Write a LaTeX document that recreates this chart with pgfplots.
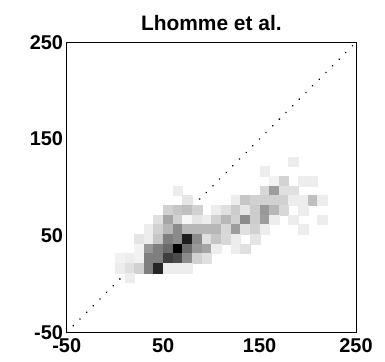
\documentclass[border=0pt]{standalone}
\usepackage{fontspec}
\setmainfont{Liberation Sans}
\usepackage{pgfplots}
\usepackage{pgfplotstable}
\pgfplotsset{compat=1.18}
\pgfplotstableread{
x y d
185 126.5 0.07
155 116.5 0.07
165 106.5 0.05
175 106.5 0.17
195 106.5 0.07
205 106.5 0.07
65 96.5 0.07
155 96.5 0.15
165 96.5 0.38
175 96.5 0.12
185 96.5 0.12
75 86.5 0.10
125 86.5 0.07
135 86.5 0.22
145 86.5 0.18
155 86.5 0.18
165 86.5 0.18
175 86.5 0.18
185 86.5 0.07
195 86.5 0.07
205 86.5 0.25
215 86.5 0.07
55 76.5 0.18
65 76.5 0.22
75 76.5 0.25
85 76.5 0.18
105 76.5 0.07
115 76.5 0.12
125 76.5 0.20
135 76.5 0.10
145 76.5 0.20
155 76.5 0.40
165 76.5 0.28
175 76.5 0.15
195 76.5 0.07
45 66.5 0.12
55 66.5 0.35
65 66.5 0.18
75 66.5 0.03
85 66.5 0.10
95 66.5 0.07
105 66.5 0.18
115 66.5 0.28
125 66.5 0.18
135 66.5 0.45
145 66.5 0.20
155 66.5 0.38
165 66.5 0.07
185 66.5 0.07
215 66.5 0.07
35 56.5 0.07
45 56.5 0.18
55 56.5 0.28
65 56.5 0.45
75 56.5 0.28
85 56.5 0.28
95 56.5 0.28
105 56.5 0.28
115 56.5 0.15
125 56.5 0.38
135 56.5 0.12
145 56.5 0.18
155 56.5 0.07
195 56.5 0.07
25 46.5 0.10
35 46.5 0.07
45 46.5 0.22
55 46.5 0.50
65 46.5 0.45
75 46.5 0.88
85 46.5 0.45
95 46.5 0.12
105 46.5 0.22
115 46.5 0.15
125 46.5 0.07
145 46.5 0.10
25 36.5 0.05
35 36.5 0.40
45 36.5 0.50
55 36.5 0.58
65 36.5 1.00
75 36.5 0.58
85 36.5 0.40
95 36.5 0.35
105 36.5 0.07
125 36.5 0.07
135 36.5 0.12
5 26.5 0.05
15 26.5 0.07
25 26.5 0.05
35 26.5 0.50
45 26.5 0.50
55 26.5 0.75
65 26.5 0.70
75 26.5 0.45
85 26.5 0.18
95 26.5 0.12
5 16.5 0.07
15 16.5 0.12
25 16.5 0.18
35 16.5 0.50
45 16.5 0.85
55 16.5 0.07
65 16.5 0.07
75 16.5 0.07
15 6.5 0.07
}\cells
\begin{document}
\begin{tikzpicture}
\path[use as bounding box] (-66.7bp,-29.7bp) rectangle (318.3bp,332.3bp);
\begin{axis}[
  at={(0,0)}, anchor=south west,
  scale only axis, width=289.3bp, height=290bp,
  xmin=-50, xmax=250, ymin=-50, ymax=250,
  xtick={-50,50,150,250}, ytick={-50,50,150,250},
  tick style={draw=none},
  tick label style={font=\fontsize{20}{20}\selectfont\bfseries},
  xticklabel style={inner sep=6.5bp},
  yticklabel style={inner sep=3.5bp},
  /pgf/number format/assume math mode=true,
  title={Lhomme et al.},
  title style={font=\fontsize{21}{21}\selectfont\bfseries, yshift=2bp},
  colormap={bw}{gray(0cm)=(1); gray(1cm)=(0)},
  point meta min=0, point meta max=1,
  axis line style={line width=0.9bp},
]
\addplot[scatter, only marks, mark=square*, mark size=4.82bp, line width=0.1bp,
  point meta=explicit,
  scatter/use mapped color={draw=mapped color, fill=mapped color}]
  table[x=x, y=y, meta=d] {\cells};
\addplot[black, line width=1.8bp, dash pattern=on 0.01bp off 9.4bp, line cap=round, no marks]
  coordinates {(-50,-50) (250,250)};
\end{axis}
\end{tikzpicture}
\end{document}
